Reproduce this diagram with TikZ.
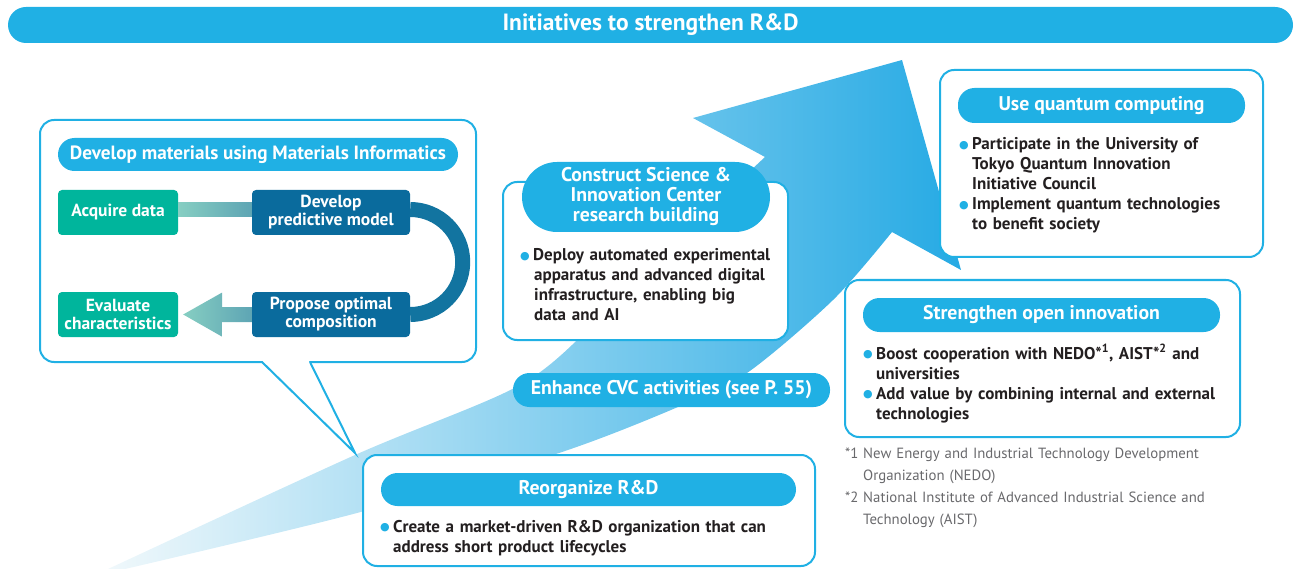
\documentclass[tikz,border=0pt]{standalone}
\usepackage{fontspec}
\setmainfont{PT Sans}
\newfontfamily\dotfont{DejaVu Sans}
\usetikzlibrary{positioning}

\definecolor{rdcyan}{RGB}{32,176,228}
\definecolor{rdteal}{RGB}{0,181,156}
\definecolor{rddark}{RGB}{10,107,157}
\definecolor{rdarc}{RGB}{18,116,160}
\definecolor{rdtext}{RGB}{35,31,32}
\definecolor{rdgrey}{RGB}{105,105,108}
\definecolor{rdpale}{RGB}{240,248,251}
\definecolor{rdmid}{RGB}{160,212,238}
\definecolor{rdtip}{RGB}{38,170,228}
\definecolor{tealhi}{RGB}{134,206,194}
\definecolor{teallo}{RGB}{94,165,180}

\newcommand{\topfont}{\fontsize{23.5}{26}\selectfont\bfseries}
\newcommand{\hdfont}{\fontsize{19.8}{20}\selectfont\bfseries}
\newcommand{\boxfont}{\fontsize{17.5}{18}\selectfont\bfseries}
\newcommand{\bodyfont}{\fontsize{17}{20}\selectfont\bfseries}
\newcommand{\notefont}{\fontsize{14.8}{22}\selectfont}
\newcommand{\bl}{\makebox[13pt][l]{\raisebox{1.2pt}{\textcolor{rdcyan}{\fontsize{11}{11}\dotfont ●}}}}

\tikzset{
  panel/.style={draw=rdcyan, line width=2pt, fill=white, rounded corners=14pt, inner sep=0pt},
  pill/.style={fill=rdcyan, text=white, rounded corners=16.5pt, inner sep=0pt, align=center, font=\hdfont},
  greenbox/.style={fill=rdteal, text=white, rounded corners=4pt, minimum width=120pt, minimum height=45pt, inner sep=0pt, align=center, font=\boxfont},
  bluebox/.style={greenbox, fill=rddark, minimum width=158pt},
  bullets/.style={anchor=base west, inner sep=0pt, align=left, text width=420pt, font=\bodyfont, text=rdtext},
}

\begin{document}
\begin{tikzpicture}[x=1pt, y=-1pt]
\useasboundingbox (0,0) rectangle (1295,569);

\node[pill, font=\topfont, minimum width=1285pt, minimum height=36pt, rounded corners=18pt] (title) at (650.5,25) {Initiatives to strengthen R\&D};

\shade[left color=rdpale, middle color=rdmid, right color=rdtip]
  plot[smooth] coordinates {(108,569) (355,455) (520,385) (600,318) (690,228) (765,157)}
  -- (693,118) -- (902,60) -- (961,270) -- (892,232)
  -- plot[smooth] coordinates {(892,232) (833,300) (747,373) (678,407) (559,453) (357,513) (125,569)} -- cycle;

\node[panel, minimum width=436pt, minimum height=242pt] (mi) at (258,241) {};
\fill[white] (262,363) -- (265,358) -- (307,358) -- (310,363) -- (355,453) -- cycle;
\draw[rdcyan, line width=2pt, line join=miter] (262,362) coordinate (t1) -- (355,453) coordinate (tip) -- (310,362) coordinate (t2);
\node[pill, font=\fontsize{19.2}{20}\selectfont\bfseries, minimum width=400pt, minimum height=33pt] (mihead) at (258,154.5) {Develop materials using Materials Informatics};

\node[greenbox] (acq) at (118,212.5) {Acquire data};
\node[bluebox] (dev) at (331,212.5) {Develop\\predictive model};
\node[greenbox] (eval) at (118,314.5) {Evaluate\\characteristics};
\node[bluebox] (prop) at (331,314.5) {Propose optimal\\composition};
\shade[left color=tealhi, right color=teallo] ([yshift=-4pt]acq.east) rectangle ([yshift=10pt]dev.west);
\draw[rdarc, line width=15pt] ([yshift=3pt]dev.east) arc[start angle=-90, end angle=90, radius=52.5];
\shade[left color=tealhi, right color=teallo] ([xshift=5pt]eval.east) -- ++(39,-22) -- ++(0,14.5)
  -- ([yshift=7.5pt]prop.west) -- ([yshift=-7.5pt]prop.west) -- ++(-30,0) -- ++(0,14.5) -- cycle;

\node[panel, minimum width=285pt, minimum height=158pt] (csic) at (645.5,261) {};
\node[pill, minimum width=248pt, minimum height=70pt, rounded corners=35pt] (csichead) at (646,197) {Construct Science \&\\Innovation Center\\research building};
\node[bullets] (csiclist) at (520,261) {\hangindent=14pt\hangafter=1\bl Deploy automated experimental\newline apparatus and advanced digital\newline infrastructure, enabling big\newline data and AI\par};

\node[panel, minimum width=323pt, minimum height=187pt] (quant) at (1101.5,163.5) {};
\node[pill, minimum width=287pt, minimum height=35pt] (quanthead) at (1101.5,105.5) {Use quantum computing};
\node[bullets] (quantlist) at (959,150) {\hangindent=13pt\hangafter=1\bl Participate in the University of\newline Tokyo Quantum Innovation\newline Initiative Council\par
\hangindent=13pt\hangafter=1\bl Implement quantum technologies\newline to benefit society\par};

\node[panel, minimum width=395pt, minimum height=157pt] (open) at (1042.5,358.5) {};
\node[pill, minimum width=357pt, minimum height=34pt] (openhead) at (1041.5,315) {Strengthen open innovation};
\node[bullets] (openlist) at (863,359) {\hangindent=13pt\hangafter=1\bl Boost cooperation with NEDO*\textsuperscript{1}, AIST*\textsuperscript{2} and\newline universities\par
\hangindent=13pt\hangafter=1\bl Add value by combining internal and external\newline technologies\par};

\node[bullets, font=\notefont, text=rdgrey] (notes) at (845,458) {\hangindent=18pt\hangafter=1\makebox[18pt][l]{*1}New Energy and Industrial Technology Development\newline Organization (NEDO)\par
\hangindent=18pt\hangafter=1\makebox[18pt][l]{*2}National Institute of Advanced Industrial Science and\newline Technology (AIST)\par};

\node[pill, minimum width=317pt, minimum height=34pt] (cvc) at (671.5,390) {Enhance CVC activities (see P. 55)};

\node[panel, minimum width=452pt, minimum height=111pt] (reorg) at (589,510.5) {};
\node[pill, minimum width=415pt, minimum height=33pt] (reorghead) at (588.5,489.5) {Reorganize R\&D};
\node[bullets] (reorglist) at (380,532) {\hangindent=13pt\hangafter=1\bl Create a market-driven R\&D organization that can\newline address short product lifecycles\par};
\end{tikzpicture}
\end{document}
